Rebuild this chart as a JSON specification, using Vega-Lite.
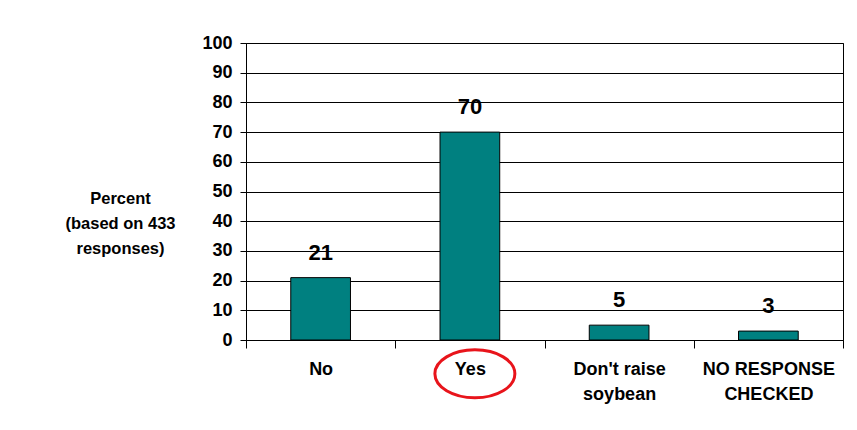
{
  "$schema": "https://vega.github.io/schema/vega-lite/v6.json",
  "width": 597,
  "height": 297,
  "autosize": {"type": "none"},
  "padding": {"left": 246, "top": 43, "right": 14, "bottom": 90},
  "background": "white",
  "config": {
    "font": "Liberation Sans",
    "view": {"stroke": "#000000", "strokeWidth": 1}
  },
  "datasets": {
    "bars": [
      {"response": "No", "percent": 21},
      {"response": "Yes", "percent": 70},
      {"response": "Don't raise soybean", "percent": 5},
      {"response": "NO RESPONSE CHECKED", "percent": 3}
    ],
    "mark": [
      {"response": "Yes", "percent": -11.4}
    ]
  },
  "encoding": {
    "x": {
      "field": "response", "type": "nominal", "sort": null,
      "scale": {"paddingInner": 0, "paddingOuter": 0},
      "axis": {
        "title": null, "labelAngle": 0, "tickBand": "extent",
        "tickSize": 8, "tickColor": "#000", "domainColor": "#000",
        "labelFontSize": 18, "labelFontWeight": "bold", "labelColor": "#000",
        "labelPadding": 12, "labelLineHeight": 25, "labelBaseline": "top",
        "labelOverlap": false,
        "labelExpr": "length(split(datum.label,' '))>2 ? [slice(datum.label,0,lastindexof(datum.label,' ')), slice(datum.label,lastindexof(datum.label,' ')+1)] : datum.label"
      }
    },
    "y": {
      "field": "percent", "type": "quantitative",
      "scale": {"domain": [0, 100], "nice": false, "zero": true},
      "axis": {
        "tickCount": 11,
        "labelOverlap": false,
        "labelBound": false,
        "labelFlush": false,
        "grid": true, "gridColor": "#000", "gridOpacity": 1, "gridWidth": 1,
        "tickSize": 6, "tickColor": "#000", "domainColor": "#000",
        "labelFontSize": 18, "labelFontWeight": "bold", "labelColor": "#000", "labelPadding": 8,
        "title": ["Percent", "(based on 433", "responses)"],
        "titleAngle": 0, "titleX": -126, "titleY": 160, "titleAlign": "center",
        "titleBaseline": "alphabetic", "titleFontSize": 16.5, "titleFontWeight": "bold",
        "titleColor": "#000", "titleLineHeight": 25
      }
    }
  },
  "layer": [
    {
      "data": {"name": "bars"},
      "mark": {"type": "bar", "color": "#008080", "stroke": "#000000", "strokeWidth": 1, "width": {"band": 0.4}}
    },
    {
      "data": {"name": "bars"},
      "mark": {"type": "text", "fontSize": 22, "fontWeight": "bold", "color": "#000", "baseline": "alphabetic", "dy": -18},
      "encoding": {
        "text": {"field": "percent", "type": "quantitative"}
      }
    },
    {
      "data": {"name": "mark"},
      "mark": {
        "type": "point", "clip": false, "filled": false, "stroke": "#e8141b", "strokeWidth": 3,
        "shape": "M -1 0 A 1 0.6 0 1 0 1 0 A 1 0.6 0 1 0 -1 0 Z",
        "size": 6400, "xOffset": 5, "opacity": 1
      }
    }
  ]
}
